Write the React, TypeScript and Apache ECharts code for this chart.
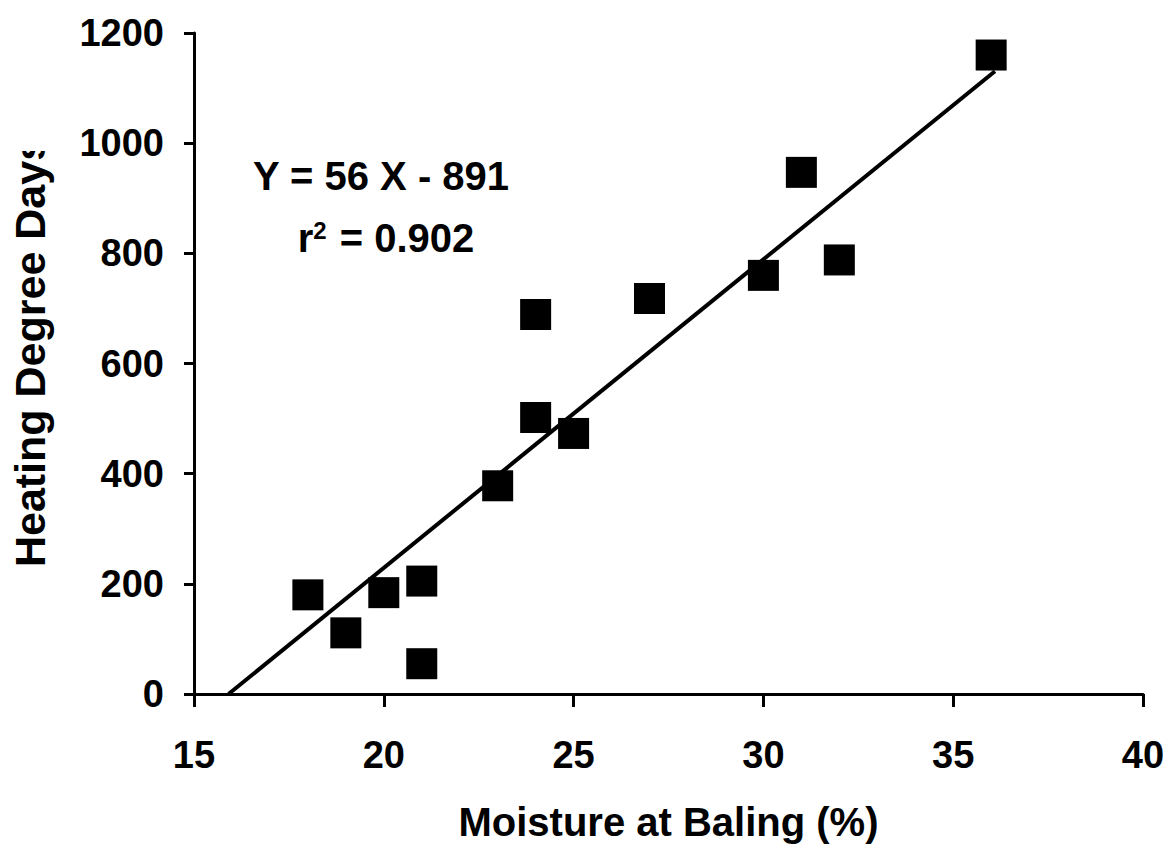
import React, { useEffect, useRef } from "react";
import * as echarts from "echarts";

const moisture = [18, 19, 20, 21, 21, 23, 24, 24, 25, 27, 30, 31, 32, 36];
const heatingDays = [180, 111, 184, 205, 55, 378, 502, 689, 473, 718, 760, 947, 788, 1160];
const slope = 56;
const intercept = -891;
const trendStartX = -intercept / slope;
const trendEndX = 36.1;
const xTicks = [15, 20, 25, 30, 35, 40];
const yTicks = [0, 200, 400, 600, 800, 1000, 1200];

const FONT = "Liberation Sans, Arial, sans-serif";

export default function App() {
  const ref = useRef<HTMLDivElement>(null);
  useEffect(() => {
    if (!ref.current) return;
    const chart = echarts.init(ref.current, undefined, { renderer: "svg" });
    const points = moisture.map((x, i) => [x, heatingDays[i]]);
    const trend = [trendStartX, trendEndX].map((x) => [x, slope * x + intercept]);
    chart.setOption({
      animation: false,
      backgroundColor: "#ffffff",
      grid: { left: 194, right: 26, top: 33, bottom: 156 },
      xAxis: {
        type: "value",
        min: xTicks[0],
        max: xTicks[xTicks.length - 1],
        interval: 5,
        name: "Moisture at Baling (%)",
        nameLocation: "middle",
        nameGap: 108,
        nameTextStyle: { color: "#000", fontSize: 40, fontWeight: "bold", fontFamily: FONT },
        axisLine: { lineStyle: { color: "#000", width: 3 } },
        axisTick: { show: true, length: 13, lineStyle: { color: "#000", width: 3 } },
        axisLabel: { color: "#000", fontSize: 38, fontWeight: "bold", fontFamily: FONT, margin: 42 },
        splitLine: { show: false },
      },
      yAxis: {
        type: "value",
        min: yTicks[0],
        max: yTicks[yTicks.length - 1],
        interval: 200,
        axisLine: { show: true, lineStyle: { color: "#000", width: 3 } },
        axisTick: { show: true, length: 10, lineStyle: { color: "#000", width: 3 } },
        axisLabel: {
          color: "#000",
          fontSize: 38,
          fontWeight: "bold",
          fontFamily: FONT,
          margin: 30,
          formatter: (v: number) => String(v),
        },
        splitLine: { show: false },
      },
      series: [
        {
          type: "line",
          data: trend,
          showSymbol: false,
          symbol: "none",
          lineStyle: { color: "#000", width: 4 },
          z: 3,
        },
        {
          type: "scatter",
          data: points,
          symbol: "rect",
          symbolSize: 31,
          itemStyle: { color: "#000", opacity: 1 },
          z: 4,
        },
      ],
      graphic: [
        {
          type: "text",
          x: 30,
          y: 352,
          rotation: Math.PI / 2,
          style: {
            text: "Heating Degree Days",
            font: `bold 43px ${FONT}`,
            fill: "#000",
            textAlign: "center",
            textVerticalAlign: "middle",
          },
        },
        {
          type: "rect",
          shape: { x: 0, y: 100, width: 60, height: 51 },
          style: { fill: "#fff" },
          z: 100,
        },
        {
          type: "text",
          x: 381,
          y: 176,
          style: {
            text: "Y = 56 X - 891",
            font: `bold 40px ${FONT}`,
            fill: "#000",
            textAlign: "center",
            textVerticalAlign: "middle",
          },
        },
        {
          type: "text",
          x: 386,
          y: 238,
          style: {
            rich: {
              b: { font: `bold 40px ${FONT}`, fill: "#000", verticalAlign: "bottom" },
              s: { font: `bold 24px ${FONT}`, fill: "#000", verticalAlign: "top", padding: [0, 2, 14, 0] },
            },
            text: "{b|r}{s|2}{b| = 0.902}",
            textAlign: "center",
            textVerticalAlign: "middle",
          },
        },
      ],
    });
    return () => chart.dispose();
  }, []);
  return (
    <div
      ref={ref}
      style={{ position: "fixed", left: 0, top: 0, width: 1169, height: 850, background: "#fff" }}
    />
  );
}
